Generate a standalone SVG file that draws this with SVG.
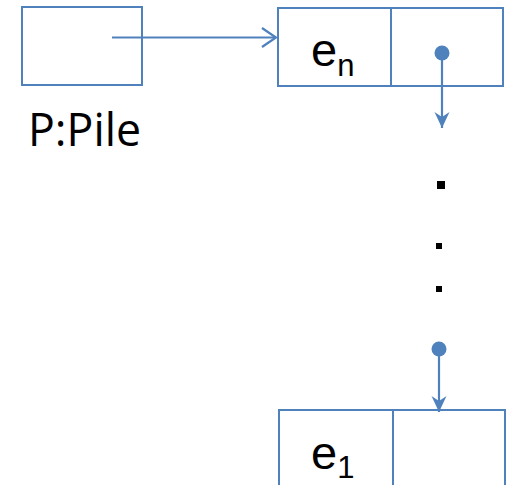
<svg xmlns="http://www.w3.org/2000/svg" width="511" height="485" viewBox="0 0 511 485">
<style>
.box{fill:#fff;stroke:#4f81bd;stroke-width:2}
.ln{stroke:#4f81bd;stroke-width:2.2;fill:none}
.lab{font-family:"Liberation Sans",Arial,sans-serif;fill:#000}
.pile{font-family:"Open Sans","Liberation Sans",sans-serif;fill:#000;font-size:45px}
.dot{fill:#4f81bd}
.sq{fill:#000}
</style>
<defs>
<marker id="open" markerWidth="18" markerHeight="24" refX="15" refY="11" orient="auto" markerUnits="userSpaceOnUse">
<path d="M1,1.5 L15,11 L1,20.5" fill="none" stroke="#4f81bd" stroke-width="2.2"/>
</marker>
<marker id="stealth" markerWidth="18" markerHeight="20" refX="16" refY="8.5" orient="auto" markerUnits="userSpaceOnUse">
<path d="M0,1 L16,8.5 L0,16 L5,8.5 Z" fill="#4f81bd"/>
</marker>
</defs>
<g id="pile">
<rect class="box" x="22" y="7" width="120" height="78"/>
<text class="pile" x="28" y="146" textLength="113" lengthAdjust="spacingAndGlyphs">P:Pile</text>
</g>
<g id="node-en">
<rect class="box" x="278" y="8" width="225" height="78"/>
<line class="box" x1="391" y1="8" x2="391" y2="86"/>
<text class="lab" x="311" y="65.5" font-size="47">e<tspan font-size="31" dy="10">n</tspan></text>
</g>
<g id="ellipsis">
<rect class="sq" x="437" y="181" width="8" height="8"/>
<rect class="sq" x="436" y="243" width="6" height="6"/>
<rect class="sq" x="436" y="286" width="6" height="6"/>
</g>
<g id="node-e1">
<rect class="box" x="279" y="410" width="226" height="90"/>
<line class="box" x1="393" y1="410" x2="393" y2="500"/>
<text class="lab" x="311" y="468.5" font-size="47">e<tspan font-size="31" dy="9.5">1</tspan></text>
</g>
<g id="connectors">
<line class="ln" x1="112" y1="37.5" x2="276" y2="37.5" marker-end="url(#open)"/>
<circle class="dot" cx="442" cy="53" r="7.5"/>
<line class="ln" x1="442" y1="53" x2="442" y2="128" marker-end="url(#stealth)"/>
<circle class="dot" cx="439" cy="349" r="7.5"/>
<line class="ln" x1="439" y1="349" x2="439" y2="412" marker-end="url(#stealth)"/>
</g>
</svg>
